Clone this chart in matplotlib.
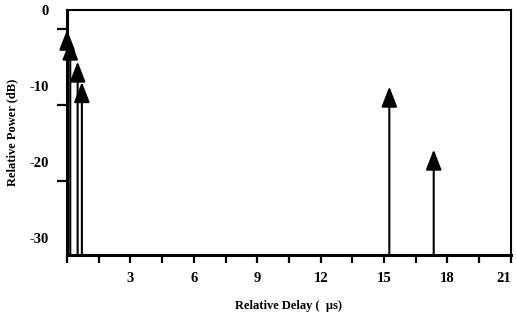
import matplotlib
matplotlib.use('Agg')
import matplotlib.pyplot as plt
from matplotlib.ticker import FixedLocator

# path delays (us) and relative powers (dB)
delays = [0.0, 0.15, 0.5, 0.7, 15.25, 17.35]
powers = [-2.6, -3.9, -6.8, -9.5, -10.1, -18.4]

x_ticks = [3, 6, 9, 12, 15, 18, 21]
x_labels = ['3', '6', '9', '12', '15', '18', '21']
x_minor = [0, 1.5, 4.5, 7.5, 10.5, 13.5, 16.5, 19.5]
y_ticks = [0, -10, -20, -30]
y_labels = ['0', '-10', '-20', '-30']
y_minor = [-2.5, -12.5, -22.5]

plt.rcParams['font.family'] = ['Liberation Serif', 'DejaVu Serif']
plt.rcParams['font.weight'] = 'bold'

fig = plt.figure(figsize=(5.16, 3.2), dpi=100)
ax = fig.add_axes([0.130, 0.203, 0.860, 0.766])

ymin, ymax = -32.3, 0
ax.set_xlim(0, 21.0)
ax.set_ylim(ymin, ymax)

for x, p in zip(delays, powers):
	ax.annotate('', xy=(x, p), xytext=(x, ymin),
		arrowprops=dict(arrowstyle='-|>,head_length=0.62,head_width=0.24',
			mutation_scale=20, lw=1.5, color='black', shrinkA=0, shrinkB=0),
		annotation_clip=False)

ax.xaxis.set_major_locator(FixedLocator(x_ticks))
ax.set_xticklabels(x_labels, fontsize=10.5, fontweight='bold')
ax.get_xticklabels()[-1].set_horizontalalignment('right')  # keep "21" inside the canvas
ax.xaxis.set_minor_locator(FixedLocator(x_minor))
ax.tick_params(axis='x', which='both', direction='out', length=6, width=1.6, pad=6)

ax.yaxis.set_major_locator(FixedLocator(y_ticks))
ax.set_yticklabels(y_labels, fontsize=10.5, fontweight='bold')
ax.yaxis.set_minor_locator(FixedLocator(y_minor))
ax.tick_params(axis='y', which='major', length=0, pad=13)
ax.tick_params(axis='y', which='minor', direction='out', length=7, width=1.6)

for s in ['left', 'bottom']:
	ax.spines[s].set_linewidth(2.2)
for s in ['top', 'right']:
	ax.spines[s].set_linewidth(1.5)

ax.set_xlabel('Relative Delay (  \u00b5s)', fontsize=9, fontweight='bold', labelpad=11)
ax.set_ylabel('Relative Power (dB)', fontsize=9, fontweight='bold', labelpad=8)

fig.savefig('out.png', dpi=100)
